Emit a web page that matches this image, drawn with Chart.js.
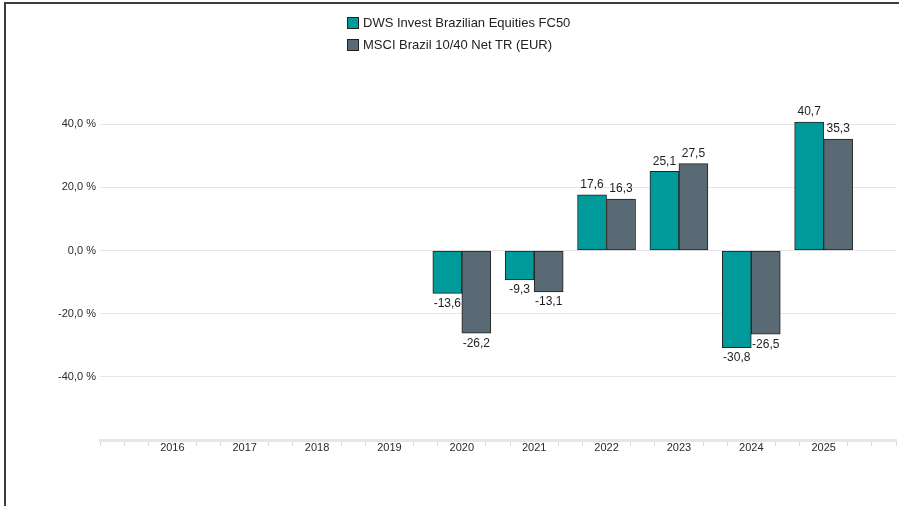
<!DOCTYPE html>
<html>
<head>
<meta charset="utf-8">
<script src="https://cdn.jsdelivr.net/npm/chart.js@4.4.1/dist/chart.umd.min.js"></script>
<style>
  html, body { margin: 0; padding: 0; background: #fff; }
  body { width: 899px; height: 506px; overflow: hidden; position: relative; font-family: "Liberation Sans", Arial, sans-serif; }
  #frame { position: absolute; left: 4px; top: 2px; width: 920px; height: 520px; border-left: 2px solid #3c3c3c; border-top: 2px solid #3c3c3c; }
  #wrap { position: absolute; left: 0; top: 0; width: 899px; height: 506px; }
  #legend { position: absolute; left: 347px; top: 12px; font-size: 13px; color: #222; }
  #legend div { height: 22px; line-height: 22px; display: flex; align-items: center; }
  #legend span.box { display: inline-block; width: 10px; height: 10px; border: 1px solid #222; margin-right: 4px; }
</style>
</head>
<body>
<div id="frame"></div>
<div id="wrap"><canvas id="myChart" width="899" height="506"></canvas></div>
<div id="legend"></div>
<script>
const years = [2016, 2017, 2018, 2019, 2020, 2021, 2022, 2023, 2024, 2025];
const fund = [null, null, null, null, -13.6, -9.3, 17.6, 25.1, -30.8, 40.7];
const bench = [null, null, null, null, -26.2, -13.1, 16.3, 27.5, -26.5, 35.3];
const seriesNames = ['DWS Invest Brazilian Equities FC50', 'MSCI Brazil 10/40 Net TR (EUR)'];

Chart.defaults.font.family = '"Liberation Sans", Arial, sans-serif';
Chart.defaults.color = '#333';

const fmt = v => v.toFixed(1).replace('.', ',');

// value labels above / below the bars
const barLabels = {
  id: 'barLabels',
  afterDatasetsDraw(chart) {
    const c = chart.ctx;
    c.save();
    c.font = '12px "Liberation Sans", Arial, sans-serif';
    c.fillStyle = '#1e1e1e';
    c.textAlign = 'center';
    c.textBaseline = 'middle';
    chart.data.datasets.forEach((ds, di) => {
      chart.getDatasetMeta(di).data.forEach((bar, i) => {
        const v = ds.data[i].y;
        if (v === null) return;
        c.fillText(fmt(v), bar.x, v >= 0 ? bar.y - 10 : bar.y + 10);
      });
    });
    c.restore();
  }
};

const ctx = document.getElementById('myChart');

const chart = new Chart(ctx, {
  type: 'bar',
  data: {
    datasets: [{
      label: seriesNames[0],
      data: years.map((y, i) => ({ x: y, y: fund[i] })),
      backgroundColor: '#009a9a',
      borderColor: '#222',
      borderWidth: 1,
      borderSkipped: false
    }, {
      label: seriesNames[1],
      data: years.map((y, i) => ({ x: y, y: bench[i] })),
      backgroundColor: '#5a6a75',
      borderColor: '#222',
      borderWidth: 1,
      borderSkipped: false
    }]
  },
  options: {
    responsive: false,
    animation: false,
    barThickness: 29,
    layout: { padding: { top: 61, left: 0, right: 3, bottom: 36 } },
    plugins: {
      legend: { display: false },
      tooltip: { enabled: false }
    },
    scales: {
      x: {
        type: 'linear',
        min: 2015,
        max: 2026,
        offset: false,
        afterBuildTicks(scale) {
          const t = [];
          for (let k = 0; k <= 33; k++) t.push({ value: 2015 + k / 3 });
          scale.ticks = t;
        },
        afterFit(scale) { scale.height = 30; },
        ticks: {
          autoSkip: false,
          maxRotation: 0,
          padding: -5,
          font: { size: 11 },
          color: '#2a2a2a',
          callback: (v, i) => (i % 3 === 0 && i >= 3 && i <= 30) ? String(2015 + i / 3) : ''
        },
        grid: {
          offset: false,
          drawOnChartArea: false,
          tickLength: 6,
          color: c => (c.index % 3 === 0 && c.index >= 3 && c.index <= 30) ? 'rgba(0,0,0,0)' : '#dcdcdc'
        },
        border: { display: true, color: '#e6e6e6', width: 3 }
      },
      y: {
        min: -60,
        max: 60,
        afterFit(scale) { scale.width = 100; },
        ticks: {
          stepSize: 20,
          padding: 4,
          font: { size: 11 },
          color: '#2a2a2a',
          callback: v => Math.abs(v) === 60 ? null : fmt(v) + ' %'
        },
        grid: { color: '#e6e6e6', lineWidth: 1, drawTicks: false },
        border: { display: false }
      }
    }
  },
  plugins: [barLabels]
});

// html legend built from the chart's own legend items
const lg = document.getElementById('legend');
chart.options.plugins.legend.labels.generateLabels(chart).forEach(item => {
  const row = document.createElement('div');
  const box = document.createElement('span');
  box.className = 'box';
  box.style.background = item.fillStyle;
  row.appendChild(box);
  row.appendChild(document.createTextNode(item.text));
  lg.appendChild(row);
});
</script>
</body>
</html>
